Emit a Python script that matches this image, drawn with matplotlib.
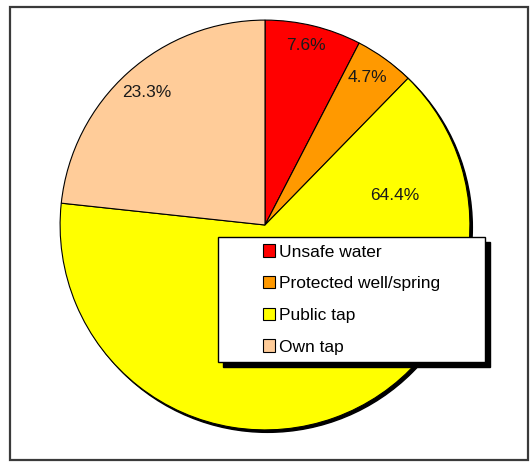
import matplotlib.pyplot as plt
from matplotlib.patches import Circle, Rectangle, Patch

plt.rcParams['font.family'] = ['Liberation Sans', 'DejaVu Sans']

# datos
categorias = ['Unsafe water', 'Protected well/spring', 'Public tap', 'Own tap']
valores = [7.6, 4.7, 64.4, 23.3]
colores = ['#FF0000', '#FF9900', '#FFFF00', '#FFCC99']

# posicion de las etiquetas (coordenadas del pie, radio 1)
pos_etiquetas = [(0.20, 0.878), (0.498, 0.722), (0.634, 0.146), (-0.576, 0.649)]

fig = plt.figure(figsize=(5.30, 4.62), dpi=100)

# marco de la figura
fig.patches.append(Rectangle((10/530, 2/462), 518/530, 453/462, transform=fig.transFigure,
                             fill=False, edgecolor='#3a3a3a', linewidth=1.6, zorder=0))

ax = fig.add_axes([56/530, 28/462, 418/530, 418/462])
ax.add_patch(Circle((0.012, -0.012), 1.0, color='black', zorder=0))
wedges, _ = ax.pie(valores, colors=colores, startangle=90, counterclock=False,
                   wedgeprops=dict(edgecolor='black', linewidth=0.8))
for v, (x, y) in zip(valores, pos_etiquetas):
    ax.text(x, y, f'{v:.1f}%', ha='center', va='center', fontsize=12.5, color='#1a1a1a')
ax.set_xlim(-1.02, 1.02)
ax.set_ylim(-1.02, 1.02)
ax.set_aspect('equal')
ax.axis('off')

# caja de la leyenda con sombra
x0, x1, y0, y1 = 218, 485, 237, 362
fig.patches.append(Rectangle(((x0+5)/530, 1-(y1+5)/462), (x1-x0)/530, (y1-y0)/462,
                             transform=fig.transFigure, facecolor='black', edgecolor='black', zorder=5))
fig.patches.append(Rectangle((x0/530, 1-y1/462), (x1-x0)/530, (y1-y0)/462,
                             transform=fig.transFigure, facecolor='white', edgecolor='black',
                             linewidth=1.0, zorder=6))

handles = [Patch(facecolor=c, edgecolor='black', linewidth=0.8) for c in colores]
leg = fig.legend(handles, categorias, loc='center', bbox_to_anchor=((x0+x1)/2/530, 1-(y0+y1)/2/462),
                 frameon=False, fontsize=12.5, handlelength=0.7, handleheight=0.7,
                 handletextpad=0.2, labelspacing=0.95)
leg.set_zorder(7)

plt.savefig('out.png', dpi=100)
